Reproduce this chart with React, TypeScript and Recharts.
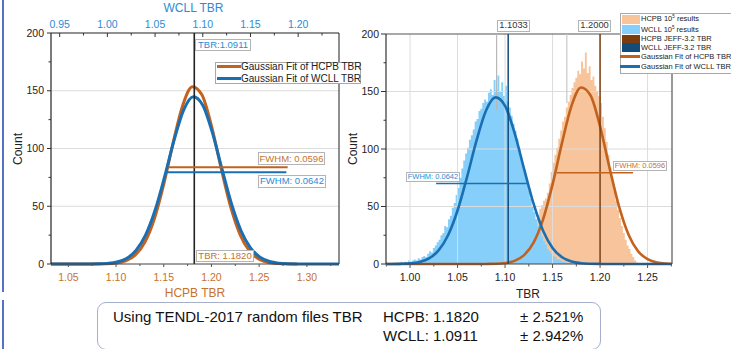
import React from 'react';
import { ComposedChart, Line, Area, XAxis, YAxis, ReferenceLine } from 'recharts';

// ---------------- data ----------------
const hcpbFitTBR = [0.97, 0.98, 0.99, 1.0, 1.01, 1.02, 1.03, 1.04, 1.05, 1.06, 1.07, 1.08, 1.09, 1.1, 1.11, 1.12, 1.13, 1.14, 1.15, 1.16, 1.17, 1.18, 1.19, 1.2, 1.21, 1.22, 1.23, 1.24, 1.25, 1.26, 1.27, 1.28, 1.29];
const hcpbFitCount = [0, 0, 0, 0, 0, 0, 0, 0, 0, 0, 0, 0.05, 0.2, 0.8, 2.7, 7.7, 18.6, 38.8, 69.2, 105.5, 137.7, 153.5, 146.5, 119.6, 83.5, 49.9, 25.5, 11.1, 4.2, 1.3, 0.4, 0.1, 0];

const wcllFitTBR = [0.94, 0.95, 0.96, 0.97, 0.98, 0.99, 1.0, 1.01, 1.02, 1.03, 1.04, 1.05, 1.06, 1.07, 1.08, 1.09, 1.1, 1.11, 1.12, 1.13, 1.14, 1.15, 1.16, 1.17, 1.18, 1.19, 1.2, 1.21, 1.22, 1.23, 1.24, 1.25, 1.26, 1.27, 1.28];
const wcllFitCount = [0, 0, 0, 0, 0.04, 0.15, 0.54, 1.7, 4.8, 11.8, 25.0, 46.5, 75.6, 107.5, 133.5, 144.9, 137.5, 114.0, 82.7, 52.4, 29.0, 14.0, 5.9, 2.2, 0.7, 0.2, 0.05, 0, 0, 0, 0, 0, 0, 0, 0];

// histograms of the 10^5 random-file results (bin width 0.002)
const histBinWidth = 0.002;
const wcllHistStart = 0.98;
const wcllHistCounts = [
  0, 1, 0, 1, 1, 2, 1, 2, 1, 3,
  2, 3, 4, 3, 5, 4, 6, 7, 6, 9,
  11, 10, 14, 16, 19, 21, 25, 27, 33, 32,
  39, 42, 49, 53, 60, 66, 75, 83, 90, 96,
  101, 108, 112, 117, 124, 126, 133, 135, 140, 143,
  141, 149, 152, 147, 160, 151, 164, 150, 158, 146,
  155, 141, 136, 129, 122, 116, 109, 101, 94, 86,
  79, 72, 64, 57, 50, 45, 39, 33, 28, 24,
  20, 17, 13, 11, 9, 7, 6, 4, 4, 3,
  2, 2, 1, 1, 1, 0,
];
const hcpbHistStart = 1.1;
const hcpbHistCounts = [
  1, 1, 2, 2, 3, 4, 5, 6, 8, 9,
  11, 13, 15, 19, 23, 28, 35, 42, 48, 51,
  55, 57, 62, 70, 80, 88, 95, 101, 109, 116,
  124, 128, 136, 141, 147, 153, 158, 162, 168, 165,
  176, 170, 184, 166, 172, 160, 163, 155, 150, 146,
  140, 128, 118, 106, 95, 84, 74, 64, 55, 47,
  40, 33, 27, 21, 16, 13, 9, 6, 3, 1,
  0,
];

const hcpbMeanTBR = 1.182;
const wcllMeanTBR = 1.0911;
const wcllJeffTBR = 1.1033;
const hcpbJeffTBR = 1.2;

// FWHM marker segments [x0, x1, y]
const leftHcpbFwhm = [1.155, 1.2799, 83.8];
const leftWcllFwhm = [1.0616, 1.1876, 79.5];
const rightWcllFwhm = [1.0274, 1.1228, 70];
const rightHcpbFwhm = [1.1544, 1.2347, 79.4];

// axes
const countMajor = [0, 50, 100, 150, 200];
const countTicks = [0, 25, 50, 75, 100, 125, 150, 175, 200];
const countGrid = [50, 100, 150];
const wcllTopMajor = [0.95, 1.0, 1.05, 1.1, 1.15, 1.2];
const wcllTopTicks = [0.95, 0.975, 1.0, 1.025, 1.05, 1.075, 1.1, 1.125, 1.15, 1.175, 1.2, 1.225];
const hcpbBottomMajor = [1.05, 1.1, 1.15, 1.2, 1.25, 1.3];
const hcpbBottomTicks = [1.05, 1.075, 1.1, 1.125, 1.15, 1.175, 1.2, 1.225, 1.25, 1.275, 1.3, 1.325];
const tbrMajor = [1.0, 1.05, 1.1, 1.15, 1.2, 1.25];
const tbrTicks = [0.975, 1.0, 1.025, 1.05, 1.075, 1.1, 1.125, 1.15, 1.175, 1.2, 1.225, 1.25, 1.275];
const leftBottomDomain = [1.0318, 1.3337];
const leftTopDomain = [0.9409, 1.2428];
const rightDomain = [0.9747, 1.2757];

// ---------------- derived tables ----------------
const zip = (xs: number[], ys: number[]) => xs.map((x, i) => ({ x, y: ys[i] }));
const hist = (start: number, counts: number[]) =>
  counts.map((c, i) => ({ x: +(start + i * histBinWidth).toFixed(4), y: c }));

const hcpbFit = zip(hcpbFitTBR, hcpbFitCount);
const wcllFit = zip(wcllFitTBR, wcllFitCount);
const wcllHist = hist(wcllHistStart, wcllHistCounts);
const hcpbHist = hist(hcpbHistStart, hcpbHistCounts);

// ---------------- styling ----------------
const FONT = '"Liberation Sans", Arial, Helvetica, sans-serif';
const ORANGE = '#c2621d';
const BLUE = '#1a6fb3';
const ORANGE_TXT = '#c8722e';
const BLUE_TXT = '#2b8cd4';
const HIST_BLUE = '#86cffa';
const HIST_ORANGE = '#f8c49c';
const JEFF_BROWN = '#7c3d0e';
const JEFF_NAVY = '#114c7a';
const GRID = '#dcdcdc';

type TickOpts = {
  side: 'left' | 'top' | 'bottom';
  majors: number[];
  color: string;
  digits: number;
  fontSize: number;
  major: number;
  minor: number;
};

const makeTick = (o: TickOpts) => (p: any) => {
  const { x, y, payload } = p;
  const v = payload.value as number;
  const isMajor = o.majors.some((m) => Math.abs(m - v) < 1e-9);
  const len = isMajor ? o.major : o.minor;
  const label = o.digits === 0 ? String(v) : v.toFixed(o.digits);
  if (o.side === 'left') {
    return (
      <g>
        <line x1={x - len} y1={y} x2={x} y2={y} stroke="#333" strokeWidth={1} />
        {isMajor && (
          <text x={x - 7} y={y + 3.7} textAnchor="end" fontSize={o.fontSize} fill={o.color} fontFamily={FONT}>
            {label}
          </text>
        )}
      </g>
    );
  }
  if (o.side === 'top') {
    return (
      <g>
        <line x1={x} y1={y} x2={x} y2={y + len} stroke="#333" strokeWidth={1} />
        {isMajor && (
          <text x={x} y={y - 5} textAnchor="middle" fontSize={o.fontSize} fill={o.color} fontFamily={FONT}>
            {label}
          </text>
        )}
      </g>
    );
  }
  return (
    <g>
      <line x1={x} y1={y} x2={x} y2={y + len} stroke="#555" strokeWidth={1} />
      {isMajor && (
        <text x={x} y={y + 16.5} textAnchor="middle" fontSize={o.fontSize} fill={o.color} fontFamily={FONT}>
          {label}
        </text>
      )}
    </g>
  );
};

const Tag = ({ left, top, w, h, color, size, children }: any) => (
  <div
    style={{
      position: 'absolute',
      left,
      top,
      width: w,
      height: h,
      border: '1px solid #b4b4b4',
      background: '#fff',
      color,
      fontSize: size,
      lineHeight: `${h - 2}px`,
      textAlign: 'center',
      boxSizing: 'border-box',
      whiteSpace: 'nowrap',
      fontFamily: FONT,
    }}
  >
    {children}
  </div>
);

const Title = ({ cx, cy, color, size, rotate, children }: any) => (
  <div
    style={{
      position: 'absolute',
      left: cx,
      top: cy,
      transform: `translate(-50%, -50%)${rotate ? ' rotate(-90deg)' : ''}`,
      color,
      fontSize: size,
      fontFamily: FONT,
      whiteSpace: 'nowrap',
      lineHeight: 1,
    }}
  >
    {children}
  </div>
);

function LeftChart() {
  return (
    <ComposedChart width={345} height={300} margin={{ top: 0, right: 6, bottom: 0, left: 0 }}>
      <XAxis
        xAxisId="bottom"
        dataKey="x"
        type="number"
        orientation="bottom"
        domain={leftBottomDomain}
        allowDataOverflow
        ticks={hcpbBottomTicks}
        interval={0}
        height={36}
        tickSize={0}
        tickMargin={0}
        tickLine={false}
        axisLine={{ stroke: '#444', strokeWidth: 1.2 }}
        tick={makeTick({ side: 'bottom', majors: hcpbBottomMajor, color: ORANGE_TXT, digits: 2, fontSize: 10.5, major: 3, minor: 2 })}
      />
      <XAxis
        xAxisId="top"
        dataKey="x"
        type="number"
        orientation="top"
        domain={leftTopDomain}
        allowDataOverflow
        ticks={wcllTopTicks}
        interval={0}
        height={33}
        tickSize={0}
        tickMargin={0}
        tickLine={false}
        axisLine={{ stroke: '#222', strokeWidth: 1.2 }}
        tick={makeTick({ side: 'top', majors: wcllTopMajor, color: BLUE_TXT, digits: 2, fontSize: 10.5, major: 4, minor: 2.5 })}
      />
      <YAxis
        yAxisId="left"
        type="number"
        domain={[0, 200]}
        ticks={countTicks}
        interval={0}
        width={51}
        tickSize={0}
        tickMargin={0}
        tickLine={false}
        axisLine={{ stroke: '#222', strokeWidth: 1.2 }}
        tick={makeTick({ side: 'left', majors: countMajor, color: '#222', digits: 0, fontSize: 10.5, major: 4, minor: 2.5 })}
      />
      {countGrid.map((g) => (
        <ReferenceLine key={g} xAxisId="bottom" yAxisId="left" y={g} stroke={GRID} strokeWidth={1} />
      ))}
      <ReferenceLine xAxisId="bottom" yAxisId="left" x={leftBottomDomain[1]} stroke="#444" strokeWidth={1.2} />
      <Line
        xAxisId="bottom"
        yAxisId="left"
        data={hcpbFit}
        dataKey="y"
        type="monotone"
        stroke={ORANGE}
        strokeWidth={3}
        dot={false}
        isAnimationActive={false}
      />
      <Line
        xAxisId="top"
        yAxisId="left"
        data={wcllFit}
        dataKey="y"
        type="monotone"
        stroke={BLUE}
        strokeWidth={3}
        dot={false}
        isAnimationActive={false}
      />
      <ReferenceLine xAxisId="bottom" yAxisId="left" x={hcpbMeanTBR} stroke="#222" strokeWidth={1.6} />
      <ReferenceLine
        xAxisId="bottom"
        yAxisId="left"
        segment={[
          { x: leftHcpbFwhm[0], y: leftHcpbFwhm[2] },
          { x: leftHcpbFwhm[1], y: leftHcpbFwhm[2] },
        ]}
        stroke={ORANGE}
        strokeWidth={2}
      />
      <ReferenceLine
        xAxisId="top"
        yAxisId="left"
        segment={[
          { x: leftWcllFwhm[0], y: leftWcllFwhm[2] },
          { x: leftWcllFwhm[1], y: leftWcllFwhm[2] },
        ]}
        stroke={BLUE}
        strokeWidth={2}
      />
    </ComposedChart>
  );
}

function RightChart() {
  return (
    <ComposedChart width={340} height={300} margin={{ top: 34, right: 8, bottom: 0, left: 0 }}>
      <XAxis
        dataKey="x"
        type="number"
        domain={rightDomain}
        allowDataOverflow
        ticks={tbrTicks}
        interval={0}
        height={36}
        tickSize={0}
        tickMargin={0}
        tickLine={false}
        axisLine={{ stroke: '#444', strokeWidth: 1.2 }}
        tick={makeTick({ side: 'bottom', majors: tbrMajor, color: '#222', digits: 2, fontSize: 10.5, major: 4, minor: 2.5 })}
      />
      <YAxis
        type="number"
        domain={[0, 200]}
        ticks={countTicks}
        interval={0}
        width={46}
        tickSize={0}
        tickMargin={0}
        tickLine={false}
        axisLine={{ stroke: '#333', strokeWidth: 1.2 }}
        tick={makeTick({ side: 'left', majors: countMajor, color: '#222', digits: 0, fontSize: 10.5, major: 5, minor: 2.5 })}
      />
      {countGrid.map((g) => (
        <ReferenceLine key={'h' + g} y={g} stroke={GRID} strokeWidth={1} />
      ))}
      {tbrMajor.map((g) => (
        <ReferenceLine key={'v' + g} x={g} stroke={GRID} strokeWidth={1} />
      ))}
      <ReferenceLine y={200} stroke="#555" strokeWidth={1.2} />
      <ReferenceLine x={rightDomain[1]} stroke="#555" strokeWidth={1.2} />
      <Area
        data={hcpbHist}
        dataKey="y"
        type="stepAfter"
        stroke="none"
        fill={HIST_ORANGE}
        fillOpacity={1}
        isAnimationActive={false}
      />
      <Area
        data={wcllHist}
        dataKey="y"
        type="stepAfter"
        stroke="none"
        fill={HIST_BLUE}
        fillOpacity={1}
        isAnimationActive={false}
      />
      <ReferenceLine
        segment={[
          { x: wcllMeanTBR, y: 200 },
          { x: wcllMeanTBR, y: 134 },
        ]}
        stroke="#b8b8b8"
        strokeWidth={1.2}
      />
      <ReferenceLine
        segment={[
          { x: 1.165, y: 200 },
          { x: 1.165, y: 140 },
        ]}
        stroke="#c8c8c8"
        strokeWidth={1.2}
      />
      <Line data={hcpbFit} dataKey="y" type="monotone" stroke={ORANGE} strokeWidth={2.6} dot={false} isAnimationActive={false} />
      <Line data={wcllFit} dataKey="y" type="monotone" stroke={BLUE} strokeWidth={2.6} dot={false} isAnimationActive={false} />
      <ReferenceLine x={wcllJeffTBR} stroke={JEFF_NAVY} strokeWidth={1.5} />
      <ReferenceLine x={hcpbJeffTBR} stroke={JEFF_BROWN} strokeWidth={1.5} />
      <ReferenceLine
        segment={[
          { x: rightWcllFwhm[0], y: rightWcllFwhm[2] },
          { x: rightWcllFwhm[1], y: rightWcllFwhm[2] },
        ]}
        stroke={BLUE}
        strokeWidth={1.6}
      />
      <ReferenceLine
        segment={[
          { x: rightHcpbFwhm[0], y: rightHcpbFwhm[2] },
          { x: rightHcpbFwhm[1], y: rightHcpbFwhm[2] },
        ]}
        stroke={ORANGE}
        strokeWidth={1.6}
      />
    </ComposedChart>
  );
}

const legendRows = [
  { label: 'HCPB', sup: true, kind: 'patch', color: HIST_ORANGE, cy: 19 },
  { label: 'WCLL', sup: true, kind: 'patch', color: HIST_BLUE, cy: 29.5 },
  { label: 'HCPB JEFF-3.2 TBR', sup: false, kind: 'patch', color: JEFF_BROWN, cy: 39 },
  { label: 'WCLL JEFF-3.2 TBR', sup: false, kind: 'patch', color: JEFF_NAVY, cy: 47.5 },
  { label: 'Gaussian Fit of HCPB TBR', sup: false, kind: 'line', color: ORANGE, cy: 56.7 },
  { label: 'Gaussian Fit of WCLL TBR', sup: false, kind: 'line', color: BLUE, cy: 66.5 },
];

export default function App() {
  return (
    <div
      style={{
        position: 'fixed',
        left: 0,
        top: 0,
        width: 731,
        height: 349,
        overflow: 'hidden',
        background: '#fff',
        fontFamily: FONT,
      }}
    >
      {/* slide side bar */}
      <div style={{ position: 'absolute', left: 2, top: 0, width: 2, height: 292, background: '#5572c4' }} />
      <div style={{ position: 'absolute', left: 2, top: 300, width: 2, height: 49, background: '#5572c4' }} />

      <div style={{ position: 'absolute', left: 0, top: 0 }}>
        <LeftChart />
      </div>
      <div style={{ position: 'absolute', left: 340, top: 0 }}>
        <RightChart />
      </div>

      {/* left panel titles & annotations */}
      <Title cx={193.5} cy={8} color={BLUE_TXT} size={12}>WCLL TBR</Title>
      <Title cx={195} cy={293} color={ORANGE_TXT} size={12}>HCPB TBR</Title>
      <Title cx={18} cy={149} color="#222" size={12} rotate>Count</Title>
      <Tag left={195} top={39} w={56} h={12} color={BLUE_TXT} size={9.5}>TBR:1.0911</Tag>
      <Tag left={196} top={250} w={58} h={12} color={ORANGE_TXT} size={9.5}>TBR: 1.1820</Tag>
      <Tag left={258} top={151.5} w={67} h={13.5} color={ORANGE_TXT} size={9.5}>FWHM: 0.0596</Tag>
      <Tag left={258} top={175} w={68} h={12.5} color={BLUE_TXT} size={9.5}>FWHM: 0.0642</Tag>
      <div
        style={{
          position: 'absolute',
          left: 215,
          top: 61.5,
          width: 146,
          height: 22,
          background: '#fff',
          border: '1px solid #a8a8a8',
          boxSizing: 'border-box',
        }}
      />
      {[
        { label: 'Gaussian Fit of HCPB TBR', color: ORANGE, cy: 66.7 },
        { label: 'Gaussian Fit of WCLL TBR', color: BLUE, cy: 78.5 },
      ].map((r) => (
        <React.Fragment key={r.label}>
          <div style={{ position: 'absolute', left: 216.5, top: r.cy - 1.5, width: 24, height: 3, background: r.color }} />
          <div
            style={{
              position: 'absolute',
              left: 241,
              top: r.cy - 6,
              height: 12,
              lineHeight: '12px',
              fontSize: 10,
              color: '#222',
              whiteSpace: 'nowrap',
            }}
          >
            {r.label}
          </div>
        </React.Fragment>
      ))}

      {/* right panel titles & annotations */}
      <Title cx={528} cy={294} color="#222" size={12}>TBR</Title>
      <Title cx={353} cy={149} color="#222" size={12} rotate>Count</Title>
      <Tag left={497} top={20} w={33} h={11.5} color="#333" size={9.3}>1.1033</Tag>
      <Tag left={578} top={20} w={33} h={11.5} color="#333" size={9.3}>1.2000</Tag>
      <Tag left={406} top={171.5} w={54} h={10.5} color={BLUE_TXT} size={7.5}>FWHM: 0.0642</Tag>
      <Tag left={613} top={160.5} w={54} h={10} color={ORANGE_TXT} size={7.5}>FWHM: 0.0596</Tag>

      <div
        style={{
          position: 'absolute',
          left: 620,
          top: 12.5,
          width: 130,
          height: 61,
          background: '#fff',
          border: '1px solid #a8a8a8',
          boxSizing: 'border-box',
        }}
      />
      {legendRows.map((r) => (
        <React.Fragment key={r.label + r.cy}>
          {r.kind === 'patch' ? (
            <div style={{ position: 'absolute', left: 622, top: r.cy - 4.5, width: 18, height: 9, background: r.color }} />
          ) : (
            <div style={{ position: 'absolute', left: 620, top: r.cy - 1.25, width: 20, height: 2.5, background: r.color }} />
          )}
          <div
            style={{
              position: 'absolute',
              left: 641,
              top: r.cy - 5,
              height: 10,
              lineHeight: '10px',
              fontSize: 7.5,
              color: '#222',
              whiteSpace: 'nowrap',
            }}
          >
            {r.sup ? (
              <>
                {r.label} 10<sup style={{ fontSize: 4.5, verticalAlign: 'top', lineHeight: '6px' }}>5</sup> results
              </>
            ) : (
              r.label
            )}
          </div>
        </React.Fragment>
      ))}

      {/* summary box */}
      <div
        style={{
          position: 'absolute',
          left: 97,
          top: 302,
          width: 504,
          height: 48,
          border: '1px solid #a6b0cc',
          borderRadius: 9,
          boxSizing: 'border-box',
          background: '#fff',
        }}
      />
      {[
        { text: 'Using TENDL-2017 random files TBR', left: 113, base: 321.5 },
        { text: 'HCPB: 1.1820', left: 383, base: 321.5 },
        { text: '± 2.521%', left: 520, base: 321.5 },
        { text: 'WCLL: 1.0911', left: 383, base: 341 },
        { text: '± 2.942%', left: 520, base: 341 },
      ].map((t) => (
        <div
          key={t.text}
          style={{
            position: 'absolute',
            left: t.left,
            top: t.base - 14,
            height: 18,
            lineHeight: '18px',
            fontSize: 15,
            color: '#111',
            whiteSpace: 'nowrap',
          }}
        >
          {t.text}
        </div>
      ))}
    </div>
  );
}
